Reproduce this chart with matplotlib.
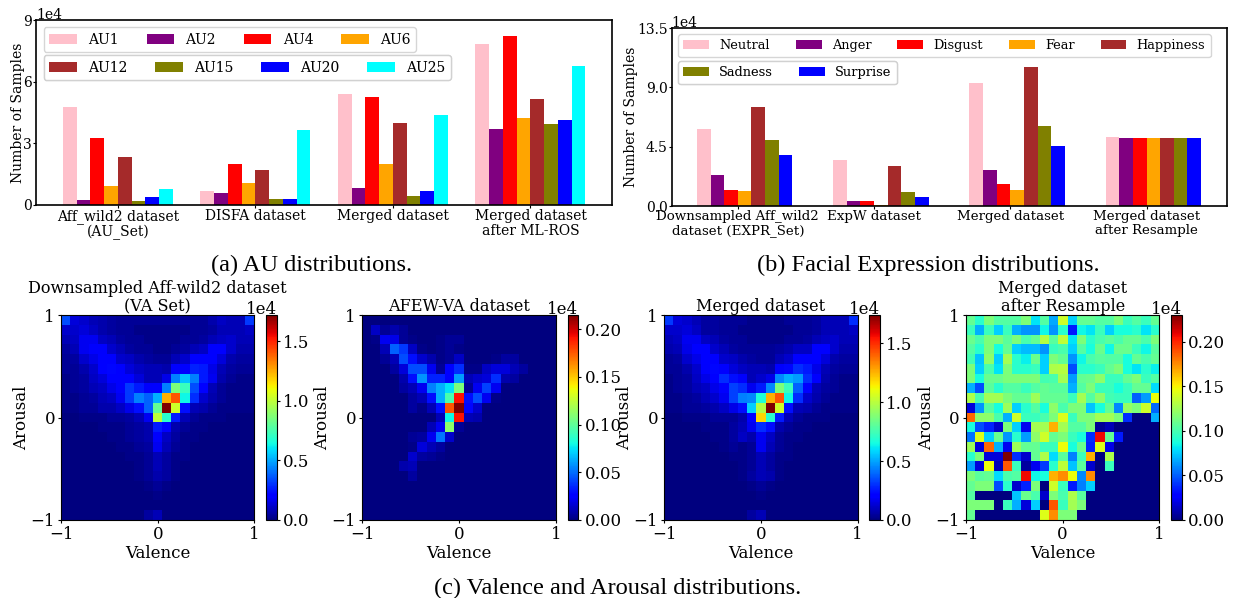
import numpy as np
import matplotlib
matplotlib.use("Agg")
import matplotlib.pyplot as plt
from matplotlib.ticker import ScalarFormatter

W, H = 1234, 598

au_names = ['AU1', 'AU2', 'AU4', 'AU6', 'AU12', 'AU15', 'AU20', 'AU25']
au_colors = ['pink', 'purple', 'red', 'orange', 'brown', 'olive', 'blue', 'cyan']
au_groups = ['Aff_wild2 dataset\n(AU_Set)', 'DISFA dataset', 'Merged dataset',
             'Merged dataset\nafter ML-ROS']
au_aff = [4.77, 0.24, 3.26, 0.92, 2.33, 0.19, 0.39, 0.78]
au_disfa = [0.68, 0.58, 2.00, 1.07, 1.70, 0.29, 0.29, 3.65]
au_merged = [5.40, 0.83, 5.25, 2.00, 3.99, 0.44, 0.68, 4.38]
au_mlros = [7.83, 3.70, 8.22, 4.23, 5.16, 3.94, 4.13, 6.76]

ex_names = ['Neutral', 'Anger', 'Disgust', 'Fear', 'Happiness', 'Sadness', 'Surprise']
ex_colors = ['pink', 'purple', 'red', 'orange', 'brown', 'olive', 'blue']
ex_groups = ['Downsampled Aff_wild2\ndataset (EXPR_Set)', 'ExpW dataset', 'Merged dataset',
             'Merged dataset\nafter Resample']
ex_aff = [5.84, 2.35, 1.21, 1.14, 7.51, 5.00, 3.87]
ex_expw = [3.49, 0.38, 0.38, 0.08, 3.03, 1.06, 0.68]
ex_merged = [9.33, 2.73, 1.67, 1.21, 10.54, 6.07, 4.55]
ex_resample = [5.23, 5.16, 5.16, 5.16, 5.16, 5.16, 5.16]

# heatmap cells, percent of the colorbar top, first row is arousal = 1
va_aff = [
    [20, 8, 7, 5, 4, 3, 2, 2, 2, 2, 2, 2, 2, 2, 2, 2, 4, 6, 5, 5, 18],
    [7, 7, 8, 6, 4, 3, 2, 2, 1, 1, 1, 1, 1, 1, 2, 2, 3, 5, 5, 5, 6],
    [5, 6, 10, 10, 6, 5, 3, 2, 2, 1, 1, 1, 1, 2, 2, 3, 5, 6, 7, 5, 5],
    [3, 5, 10, 11, 11, 7, 5, 3, 2, 2, 1, 1, 2, 3, 5, 6, 11, 11, 7, 4, 4],
    [2, 3, 7, 9, 12, 11, 7, 6, 4, 3, 2, 2, 5, 7, 12, 12, 11, 8, 4, 3, 3],
    [2, 2, 4, 7, 12, 13, 11, 8, 6, 5, 5, 4, 11, 12, 16, 15, 9, 5, 3, 2, 2],
    [1, 2, 3, 6, 8, 12, 12, 12, 8, 5, 5, 9, 25, 32, 25, 15, 10, 4, 2, 1, 1],
    [1, 2, 3, 5, 6, 9, 11, 18, 15, 11, 12, 25, 50, 42, 20, 12, 5, 2, 1, 1, 1],
    [1, 1, 2, 3, 5, 6, 10, 18, 25, 22, 30, 72, 82, 37, 17, 7, 4, 2, 1, 1, 1],
    [1, 1, 2, 2, 4, 4, 6, 9, 14, 22, 47, 100, 60, 14, 5, 4, 2, 1, 1, 1, 1],
    [0, 0, 1, 1, 1, 2, 2, 3, 5, 10, 58, 40, 15, 5, 2, 1, 1, 1, 0, 0, 0],
    [0, 0, 0, 0, 1, 1, 1, 2, 3, 4, 15, 12, 4, 2, 1, 1, 0, 0, 0, 0, 0],
    [0, 0, 0, 0, 0, 1, 1, 2, 3, 4, 11, 6, 3, 1, 1, 0, 0, 0, 0, 0, 0],
    [0, 0, 0, 0, 0, 0, 1, 1, 2, 3, 10, 5, 2, 1, 0, 0, 0, 0, 0, 0, 0],
    [0, 0, 0, 0, 0, 0, 0, 1, 1, 2, 5, 3, 1, 1, 0, 0, 0, 0, 0, 0, 0],
    [0, 0, 0, 0, 0, 0, 0, 0, 1, 2, 5, 3, 1, 0, 0, 0, 0, 0, 0, 0, 0],
    [0, 0, 0, 0, 0, 0, 0, 0, 1, 2, 4, 3, 1, 0, 0, 0, 0, 0, 0, 0, 0],
    [0, 0, 0, 0, 0, 0, 0, 0, 0, 1, 2, 1, 0, 0, 0, 0, 0, 0, 0, 0, 0],
    [0, 0, 0, 0, 0, 0, 0, 0, 0, 0, 1, 0, 0, 0, 0, 0, 0, 0, 0, 0, 0],
    [0, 0, 0, 0, 0, 0, 0, 0, 0, 0, 0, 0, 0, 0, 0, 0, 0, 0, 0, 0, 0],
    [0, 0, 0, 0, 0, 0, 0, 0, 0, 3, 5, 0, 0, 0, 0, 0, 0, 0, 0, 0, 0],
]
va_afew = [
    [0, 0, 0, 0, 0, 0, 0, 0, 0, 0, 0, 0, 0, 0, 0, 0, 0, 0, 0, 0, 0],
    [0, 6, 2, 4, 2, 0, 0, 0, 0, 0, 0, 0, 0, 0, 0, 0, 0, 0, 0, 0, 0],
    [0, 1, 10, 9, 2, 1, 0, 0, 1, 2, 2, 0, 0, 0, 0, 0, 0, 0, 0, 0, 0],
    [0, 0, 5, 22, 18, 6, 1, 0, 1, 2, 1, 0, 0, 0, 0, 0, 0, 0, 0, 0, 0],
    [0, 0, 2, 5, 20, 14, 7, 4, 1, 2, 6, 0, 0, 0, 1, 3, 3, 0, 0, 0, 0],
    [0, 0, 0, 3, 8, 20, 20, 10, 2, 12, 17, 1, 1, 6, 8, 8, 5, 3, 0, 0, 0],
    [0, 0, 0, 0, 4, 14, 27, 16, 16, 12, 28, 5, 7, 8, 17, 4, 3, 0, 0, 0, 0],
    [0, 0, 0, 0, 3, 5, 10, 25, 30, 35, 50, 2, 10, 19, 10, 0, 0, 0, 0, 0, 0],
    [0, 0, 0, 0, 0, 3, 5, 14, 30, 44, 89, 14, 20, 10, 1, 0, 0, 0, 0, 0, 0],
    [0, 0, 0, 0, 0, 3, 1, 5, 14, 82, 100, 13, 7, 0, 0, 0, 0, 0, 0, 0, 0],
    [0, 0, 0, 0, 0, 0, 0, 0, 5, 37, 89, 5, 4, 0, 0, 0, 0, 0, 0, 0, 0],
    [0, 0, 0, 0, 0, 0, 0, 5, 10, 52, 2, 0, 0, 0, 0, 0, 0, 0, 0, 0, 0],
    [0, 0, 0, 0, 0, 2, 3, 10, 24, 7, 0, 0, 0, 0, 0, 0, 0, 0, 0, 0, 0],
    [0, 0, 0, 0, 0, 1, 8, 5, 3, 0, 0, 0, 0, 0, 0, 0, 0, 0, 0, 0, 0],
    [0, 0, 0, 0, 0, 7, 3, 2, 1, 0, 0, 0, 0, 0, 0, 0, 0, 0, 0, 0, 0],
    [0, 0, 0, 0, 4, 5, 0, 0, 0, 0, 0, 0, 0, 0, 0, 0, 0, 0, 0, 0, 0],
    [0, 0, 0, 0, 0, 3, 0, 0, 0, 0, 0, 0, 0, 0, 0, 0, 0, 0, 0, 0, 0],
    [0, 0, 0, 0, 0, 0, 0, 0, 0, 0, 0, 0, 0, 0, 0, 0, 0, 0, 0, 0, 0],
    [0, 0, 0, 0, 0, 0, 0, 0, 0, 0, 0, 0, 0, 0, 0, 0, 0, 0, 0, 0, 0],
    [0, 0, 0, 0, 0, 0, 0, 0, 0, 0, 0, 0, 0, 0, 0, 0, 0, 0, 0, 0, 0],
    [0, 0, 0, 0, 0, 0, 0, 0, 0, 0, 0, 0, 0, 0, 0, 0, 0, 0, 0, 0, 0],
]
va_merged = [
    [18, 8, 7, 5, 3, 3, 2, 2, 2, 1, 1, 1, 1, 2, 2, 2, 3, 5, 5, 5, 17],
    [7, 7, 8, 6, 3, 3, 2, 2, 1, 1, 1, 1, 1, 1, 2, 2, 3, 5, 5, 5, 6],
    [5, 6, 10, 10, 6, 5, 3, 2, 2, 1, 1, 1, 1, 2, 2, 3, 5, 6, 7, 5, 5],
    [4, 5, 9, 12, 12, 7, 5, 3, 2, 2, 2, 2, 3, 4, 6, 6, 12, 12, 7, 4, 4],
    [2, 3, 7, 9, 12, 11, 7, 6, 4, 3, 2, 2, 5, 7, 12, 12, 12, 8, 4, 3, 3],
    [2, 2, 4, 7, 11, 13, 11, 8, 6, 5, 5, 4, 11, 13, 17, 15, 9, 5, 3, 2, 2],
    [1, 2, 3, 6, 9, 12, 17, 14, 11, 5, 7, 9, 26, 30, 28, 17, 11, 4, 2, 1, 1],
    [1, 2, 3, 5, 6, 9, 11, 19, 17, 10, 15, 26, 50, 42, 22, 12, 5, 3, 2, 1, 1],
    [1, 1, 2, 3, 5, 7, 10, 19, 25, 26, 39, 72, 82, 37, 17, 7, 4, 2, 1, 1, 1],
    [1, 1, 2, 2, 3, 4, 6, 9, 14, 33, 57, 100, 60, 14, 5, 4, 2, 1, 1, 1, 1],
    [0, 0, 1, 1, 1, 2, 2, 2, 4, 12, 68, 40, 15, 5, 2, 1, 1, 1, 0, 0, 0],
    [0, 0, 0, 0, 1, 1, 1, 3, 5, 10, 17, 14, 4, 2, 1, 1, 0, 0, 0, 0, 0],
    [0, 0, 0, 0, 0, 1, 1, 3, 6, 4, 10, 6, 2, 1, 1, 0, 0, 0, 0, 0, 0],
    [0, 0, 0, 0, 0, 0, 1, 2, 1, 2, 10, 5, 2, 1, 0, 0, 0, 0, 0, 0, 0],
    [0, 0, 0, 0, 0, 0, 0, 1, 1, 2, 5, 3, 1, 1, 0, 0, 0, 0, 0, 0, 0],
    [0, 0, 0, 0, 0, 0, 0, 0, 1, 2, 5, 3, 1, 0, 0, 0, 0, 0, 0, 0, 0],
    [0, 0, 0, 0, 0, 0, 0, 0, 1, 3, 5, 4, 1, 0, 0, 0, 0, 0, 0, 0, 0],
    [0, 0, 0, 0, 0, 0, 0, 0, 0, 1, 2, 1, 0, 0, 0, 0, 0, 0, 0, 0, 0],
    [0, 0, 0, 0, 0, 0, 0, 0, 0, 0, 1, 0, 0, 0, 0, 0, 0, 0, 0, 0, 0],
    [0, 0, 0, 0, 0, 0, 0, 0, 0, 0, 0, 0, 0, 0, 0, 0, 0, 0, 0, 0, 0],
    [0, 0, 0, 0, 0, 0, 0, 0, 0, 3, 5, 0, 0, 0, 0, 0, 0, 0, 0, 0, 0],
]
va_resample = [
    [47, 40, 50, 45, 45, 45, 50, 35, 45, 29, 60, 33, 47, 47, 45, 45, 50, 42, 45, 42, 47],
    [42, 30, 42, 33, 42, 30, 27, 27, 37, 27, 40, 15, 37, 35, 42, 33, 38, 38, 40, 35, 40],
    [48, 44, 50, 50, 46, 50, 44, 47, 57, 46, 58, 35, 50, 40, 44, 46, 44, 47, 47, 44, 50],
    [45, 40, 50, 38, 47, 33, 31, 31, 27, 42, 44, 33, 45, 38, 48, 37, 48, 48, 42, 37, 46],
    [43, 32, 52, 33, 55, 40, 36, 48, 33, 50, 47, 27, 37, 44, 46, 45, 45, 38, 47, 44, 47],
    [50, 33, 44, 35, 50, 40, 40, 42, 33, 56, 57, 20, 40, 40, 42, 47, 50, 38, 35, 40, 36],
    [50, 38, 48, 48, 50, 50, 50, 50, 43, 44, 55, 28, 47, 48, 52, 42, 42, 47, 50, 42, 45],
    [30, 20, 46, 40, 45, 45, 42, 45, 47, 46, 46, 30, 45, 50, 42, 42, 38, 42, 47, 47, 34],
    [56, 44, 55, 55, 50, 47, 47, 54, 47, 47, 47, 42, 55, 45, 52, 43, 42, 42, 22, 28, 64],
    [8, 27, 45, 38, 54, 33, 40, 45, 38, 52, 44, 50, 50, 32, 38, 47, 26, 53, 50, 60, 23],
    [80, 52, 52, 44, 30, 60, 42, 42, 44, 50, 62, 42, 50, 50, 55, 55, 50, 17, 0, 0, 30],
    [38, 20, 16, 7, 50, 33, 10, 55, 55, 72, 55, 45, 45, 50, 2, 5, 0, 0, 0, 0, 0],
    [24, 62, 33, 48, 27, 40, 28, 52, 60, 47, 50, 42, 38, 17, 90, 47, 15, 0, 0, 0, 0],
    [54, 8, 80, 30, 10, 54, 47, 47, 42, 42, 64, 38, 48, 16, 62, 9, 0, 0, 0, 0, 0],
    [40, 50, 8, 8, 100, 17, 7, 47, 56, 34, 46, 25, 42, 72, 0, 56, 0, 0, 0, 0, 0],
    [28, 8, 64, 5, 82, 42, 3, 10, 18, 40, 58, 32, 46, 7, 0, 42, 0, 0, 0, 0, 0],
    [50, 46, 47, 34, 44, 45, 90, 37, 38, 72, 76, 64, 26, 76, 0, 0, 0, 0, 0, 0, 0],
    [47, 50, 50, 20, 40, 7, 16, 50, 0, 60, 42, 15, 25, 33, 0, 0, 0, 0, 0, 0, 0],
    [45, 0, 0, 0, 0, 32, 48, 44, 7, 50, 44, 56, 46, 0, 0, 0, 0, 0, 0, 0, 0],
    [50, 50, 50, 0, 42, 30, 8, 33, 0, 82, 42, 55, 50, 0, 0, 0, 0, 0, 0, 0, 0],
    [47, 0, 0, 0, 0, 0, 0, 0, 62, 76, 50, 50, 0, 0, 0, 0, 0, 0, 0, 0, 0],
]
va_titles = ['Downsampled Aff-wild2 dataset\n(VA Set)', 'AFEW-VA dataset', 'Merged dataset',
             'Merged dataset\nafter Resample']
va_vmax = [1.72, 0.215, 1.74, 0.23]
va_ticks = [[0, 0.5, 1.0, 1.5], [0, 0.05, 0.10, 0.15, 0.20], [0, 0.5, 1.0, 1.5],
            [0, 0.05, 0.10, 0.15, 0.20]]


def px_axes(x0, y0, x1, y1):
    return fig.add_axes([x0 / W, 1 - y1 / H, (x1 - x0) / W, (y1 - y0) / H])


def bar_panel(box, groups, series, names, colors, xlim, ymax, yticks, legends, ylab_pad, tick_shift, x_fs):
    ax = px_axes(*box)
    n = len(names)
    hs = []
    for i in range(n):
        vals = np.array([s[i] for s in series]) * 1e4
        b = ax.bar(np.arange(4) + (i - (n - 1) / 2) * 0.1, vals, 0.1, color=colors[i], label=names[i])
        hs.append(b)
    ax.set_xlim(xlim)
    ax.set_ylim(0, ymax * 1e4)
    ax.set_xticks(np.arange(4) + tick_shift)
    ax.set_yticks(np.array(yticks) * 1e4)
    ax.tick_params(axis='both', labelsize=10, pad=1, length=2, width=0.8)
    ax.set_xticklabels(groups, fontsize=x_fs, linespacing=1.1)
    ax.ticklabel_format(axis='y', style='sci', scilimits=(4, 4))
    ax.yaxis.OFFSETTEXTPAD = 1
    ax.yaxis.get_offset_text().set_fontsize(10)
    ax.set_ylabel('Number of Samples', fontsize=10, labelpad=ylab_pad)
    for s in ax.spines.values():
        s.set_linewidth(1.2)
    for idx, (start, stop, pos, fs) in enumerate(legends):
        leg = ax.legend(hs[start:stop], names[start:stop], ncol=stop - start, loc='upper left',
                        bbox_to_anchor=pos, bbox_transform=fig.transFigure, borderaxespad=0,
                        fontsize=fs, columnspacing=2.0, handletextpad=0.8, handlelength=2.0)
        ax.add_artist(leg)
    return ax


plt.rcParams['font.family'] = ['DejaVu Serif']
fig = plt.figure(figsize=(W / 100, H / 100), dpi=100)

bar_panel((36.3, 20, 612, 205), au_groups, [au_aff, au_disfa, au_merged, au_mlros], au_names, au_colors,
          (-0.594, 3.593), 9, [0, 3, 6, 9],
          [(0, 4, (43.7 / W, 1 - 27 / H), 10), (4, 8, (43.7 / W, 1 - 55 / H), 10)], -1, 0, 10)
bar_panel((671.7, 28, 1227, 206), ex_groups, [ex_aff, ex_expw, ex_merged, ex_resample], ex_names, ex_colors,
          (-0.535, 3.54), 13.5, [0, 4.5, 9, 13.5],
          [(0, 5, (678 / W, 1 - 34 / H), 9.3), (5, 7, (678 / W, 1 - 61 / H), 9.3)], -1, -0.05, 9.6)

boxes = [(61.3, 315, 254.3, 520), (362.3, 315, 556, 520), (664.3, 315, 857.7, 520), (966, 315, 1159.3, 520)]
cb_boxes = [(266.3, 315, 276.7, 520), (567.7, 315, 578.3, 520), (869.3, 315, 880, 520), (1171.3, 315, 1181.7, 520)]
grids = [va_aff, va_afew, va_merged, va_resample]

for k in range(4):
    ax = px_axes(*boxes[k])
    vals = np.array(grids[k]) / 100 * va_vmax[k] * 1e4
    im = ax.imshow(vals, cmap='jet', vmin=0, vmax=va_vmax[k] * 1e4, extent=[-1, 1, -1, 1],
                   aspect='auto', interpolation='nearest')
    ax.set_xticks([-1, 0, 1])
    ax.set_yticks([-1, 0, 1])
    ax.tick_params(labelsize=12, pad=2, length=2.5, width=0.8)
    ax.set_xlabel('Valence', fontsize=12, labelpad=1)
    ax.set_ylabel('Arousal', fontsize=12, labelpad=0)
    ax.set_title(va_titles[k], fontsize=11.6, pad=1.5, linespacing=1.1)
    cax = px_axes(*cb_boxes[k])
    cb = fig.colorbar(im, cax=cax)
    fmt = ScalarFormatter()
    fmt.set_powerlimits((4, 4))
    cb.formatter = fmt
    cb.set_ticks(np.array(va_ticks[k]) * 1e4)
    cb.ax.tick_params(labelsize=12, pad=2, length=2.5, width=0.8)
    cb.ax.yaxis.OFFSETTEXTPAD = 1
    cb.ax.yaxis.get_offset_text().set_fontsize(12)
    cb.outline.set_linewidth(0.8)

fig.text(312 / W, 1 - 265 / H, '(a) AU distributions.', family='Liberation Serif', fontsize=17.6, ha='center', va='center')
fig.text(928 / W, 1 - 265 / H, '(b) Facial Expression distributions.', family='Liberation Serif', fontsize=17.6, ha='center', va='center')
fig.text(618 / W, 1 - 588 / H, '(c) Valence and Arousal distributions.', family='Liberation Serif', fontsize=17.6, ha='center', va='center')

fig.savefig('out.png', dpi=100)
